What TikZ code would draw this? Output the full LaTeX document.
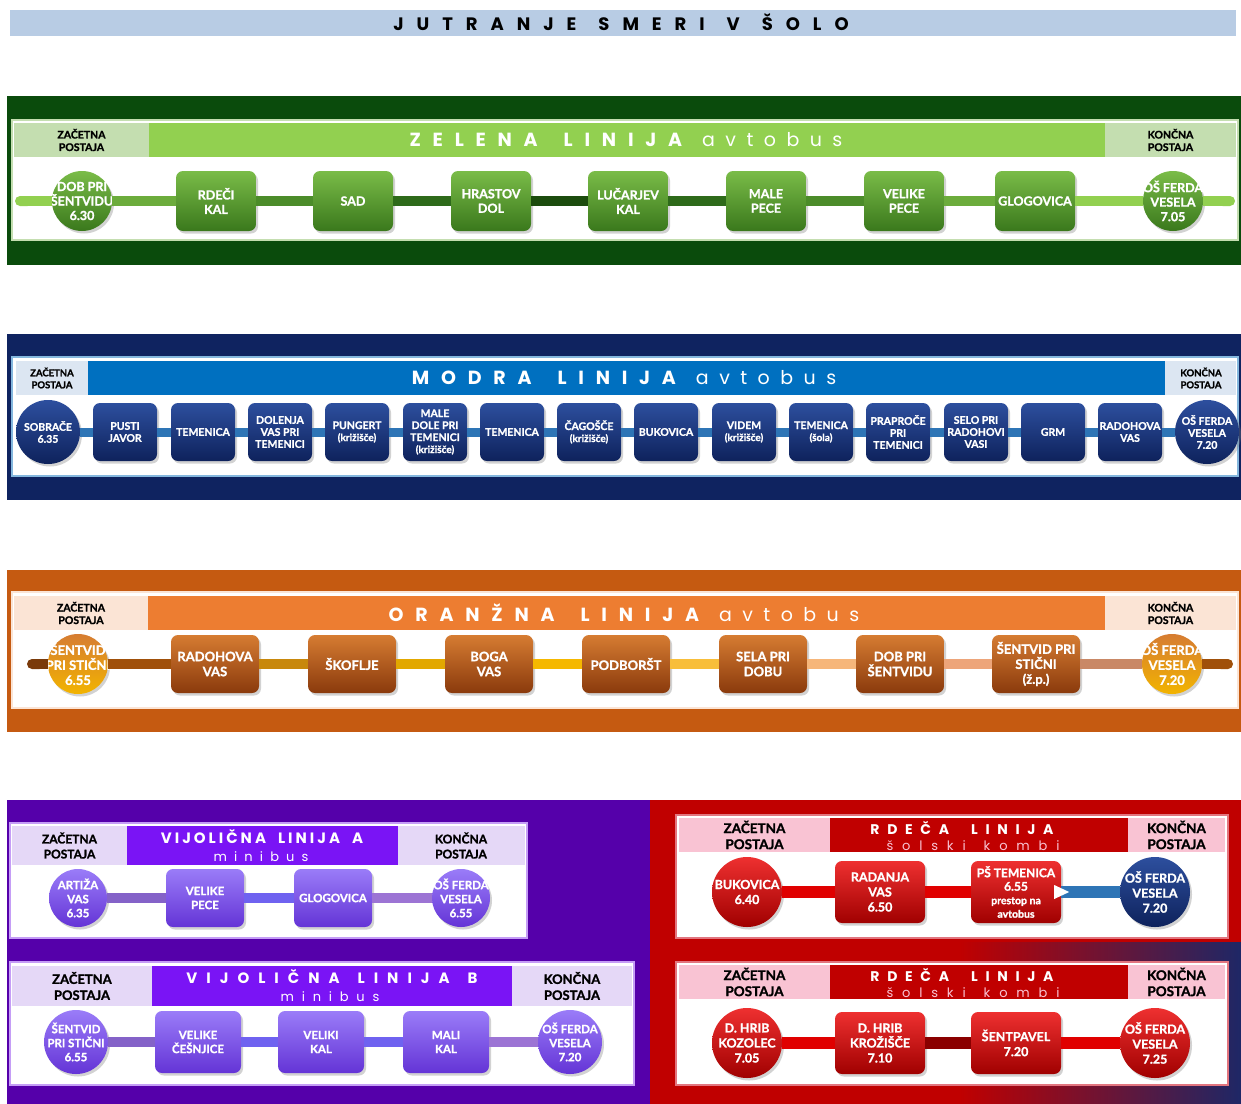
\documentclass[tikz,border=0pt]{standalone}
\usepackage{fontspec}
\setmainfont{Lato}[BoldFeatures={FakeBold=1.2}]
\newfontfamily\geo{Poppins}
\usetikzlibrary{shadows,arrows.meta}

% barve
\definecolor{naslovPas}{HTML}{B8CCE4}
\definecolor{zelOkvir}{HTML}{0A4B0C}
\definecolor{zelPas}{HTML}{92D050}
\definecolor{zelSvetla}{HTML}{C4DEB0}
\definecolor{zelGor}{HTML}{7ABC48}
\definecolor{zelDol}{HTML}{3A781C}
\definecolor{zelA}{HTML}{92D050}
\definecolor{zelB}{HTML}{6CAC3C}
\definecolor{zelC}{HTML}{4C8C2A}
\definecolor{zelD}{HTML}{2E6A1A}
\definecolor{zelE}{HTML}{1C4C0E}
\definecolor{modOkvir}{HTML}{0F2360}
\definecolor{modPas}{HTML}{0070C0}
\definecolor{modSvetla}{HTML}{DCE6F2}
\definecolor{modGor}{HTML}{2D4F9E}
\definecolor{modDol}{HTML}{0E225C}
\definecolor{modTrak}{HTML}{2E75B6}
\definecolor{oraOkvir}{HTML}{C55A11}
\definecolor{oraPas}{HTML}{ED7D31}
\definecolor{oraSvetla}{HTML}{FBE4D5}
\definecolor{oraGor}{HTML}{D67C32}
\definecolor{oraDol}{HTML}{8A3A0C}
\definecolor{oraKrogDol}{HTML}{F2B400}
\definecolor{oraA}{HTML}{7A3A0A}
\definecolor{oraB}{HTML}{A0500A}
\definecolor{oraC}{HTML}{C8880C}
\definecolor{oraD}{HTML}{E2A800}
\definecolor{oraE}{HTML}{F5B800}
\definecolor{oraF}{HTML}{F8BE3A}
\definecolor{oraG}{HTML}{F6B67A}
\definecolor{oraH}{HTML}{EDA57A}
\definecolor{oraI}{HTML}{C98866}
\definecolor{vijOzadje}{HTML}{5500AA}
\definecolor{vijPas}{HTML}{7A14F5}
\definecolor{vijSvetla}{HTML}{E5D8F7}
\definecolor{vijGor}{HTML}{9A7CF8}
\definecolor{vijDol}{HTML}{6434D6}
\definecolor{vijA}{HTML}{8462C8}
\definecolor{vijB}{HTML}{6F62F0}
\definecolor{vijC}{HTML}{9C74D4}
\definecolor{rdeOzadje}{HTML}{C00000}
\definecolor{rdeSvetla}{HTML}{F9C3D3}
\definecolor{rdeGor}{HTML}{EE3030}
\definecolor{rdeDol}{HTML}{A00000}
\definecolor{rdeTrak}{HTML}{E00000}
\definecolor{rdeTemna}{HTML}{8A0000}
\definecolor{temnoModra}{HTML}{1E2766}

\newcommand\razprto[3]{{\fontsize{#1}{#1}\selectfont\addfontfeature{LetterSpace=#2}#3}}
\newcommand\kriz{{\fontsize{10}{12}\selectfont(križišče)}}
\newcommand\linija[1]{{\geo\bfseries\razprto{19}{62}{#1}}\hspace{26pt}{\geo\bfseries\razprto{19}{62}{LINIJA}}\hspace{20pt}{\geo\razprto{19}{55}{avtobus}}}

\tikzset{
  glava/.style 2 args={align=center, inner sep=0pt, text=black, font=\bfseries\fontsize{#1}{#2}\selectfont},
  napis/.style 2 args={align=center, inner sep=0pt, text=white, font=\bfseries\fontsize{#1}{#2}\selectfont},
  senca/.style={drop shadow={opacity=0.35, shadow xshift=2pt, shadow yshift=-2.5pt}},
  skatla/.style n args={4}{rounded corners=7pt, minimum width=#1, minimum height=#2, inner sep=0pt, top color=#3, bottom color=#4, senca},
  krog/.style n args={3}{circle, minimum size=#1, inner sep=0pt, top color=#2, bottom color=#3, senca},
  % zelena
  zskatla/.style={skatla={80pt}{60pt}{zelGor}{zelDol}},
  zkrog/.style={krog={60pt}{zelGor}{zelDol}},
  znapis/.style={napis={12.5}{14.5}},
  % modra
  mskatla/.style={skatla={64pt}{58pt}{modGor}{modDol}},
  mkrog/.style={krog={64pt}{modGor}{modDol}},
  mnapis/.style={napis={10.5}{12}},
  % oranzna
  oskatla/.style={skatla={88pt}{58pt}{oraGor}{oraDol}},
  okrog/.style={krog={60pt}{oraGor}{oraKrogDol}},
  onapis/.style={napis={13}{15}},
  % vijolicna
  askatla/.style={skatla={78pt}{58pt}{vijGor}{vijDol}},
  akrog/.style={krog={58pt}{vijGor}{vijDol}},
  bskatla/.style={skatla={86pt}{62pt}{vijGor}{vijDol}},
  bkrog/.style={krog={64pt}{vijGor}{vijDol}},
  vnapis/.style={napis={11.5}{14}},
  % rdeca
  rskatla/.style={skatla={90pt}{62pt}{rdeGor}{rdeDol}},
  rkrog/.style={krog={70pt}{rdeGor}{rdeDol}},
  rnapis/.style={napis={12.5}{15}},
}

\begin{document}
\begin{tikzpicture}[x=1pt, y=-1pt]
\useasboundingbox (0,0) rectangle (1241,1103);

% naslov
\fill[naslovPas] (10,10) rectangle (1236,36);
\node[inner sep=0pt] (naslov) at (621,22) {\geo\bfseries\razprto{18}{72}{JUTRANJE}\hspace{22pt}\razprto{18}{72}{SMERI}\hspace{22pt}\razprto{18}{72}{V}\hspace{22pt}\razprto{18}{72}{ŠOLO}};

% zelena linija
\fill[zelOkvir] (7,96) rectangle (1241,265);
\filldraw[fill=white, draw=zelSvetla, line width=2pt] (12,120) rectangle (1238,240);
\fill[zelSvetla] (14,123) rectangle (149,157);
\fill[zelPas] (149,123) rectangle (1105,157);
\fill[zelSvetla] (1105,123) rectangle (1236,157);
\node[glava={10.5}{12.5}] (zZac) at (81.5,140) {ZAČETNA\\POSTAJA};
\node[glava={10.5}{12.5}] (zKon) at (1170.5,140) {KONČNA\\POSTAJA};
\node[text=white, inner sep=0pt] (zNaslov) at (626,140) {\linija{ZELENA}};
\coordinate (zL) at (15,201);
\coordinate (zD) at (1235,201);
\node[zkrog, label={[znapis]center:DOB PRI\\ŠENTVIDU\\6.30}] (z0) at (82,201) {};
\foreach \x/\ime [count=\i] in {216/RDEČI\\KAL, 353/SAD, 491/HRASTOV\\DOL, 628/LUČARJEV\\KAL, 766/MALE\\PECE, 904/VELIKE\\PECE, 1035/GLOGOVICA}
  \node[zskatla, label={[znapis]center:\ime}] (z\i) at (\x,201) {};
\node[zkrog, label={[znapis]center:OŠ FERDA\\VESELA\\7.05}] (z8) at (1173,201) {};
\draw[line width=10pt, zelA, -{Round Cap[]}] (z0) -- (zL);
\foreach \a/\b/\c in {z0/z1/zelB, z1/z2/zelC, z2/z3/zelD, z3/z4/zelE, z4/z5/zelD, z5/z6/zelC, z6/z7/zelB, z7/z8/zelA}
  \draw[line width=10pt, \c] (\a) -- (\b);
\draw[line width=10pt, zelA, -{Round Cap[]}] (z8) -- (zD);

% modra linija
\fill[modOkvir] (7,334) rectangle (1241,500);
\filldraw[fill=white, draw=modSvetla!60!modPas, line width=2pt] (12,357) rectangle (1238,476);
\fill[modSvetla] (16,361) rectangle (88,395);
\fill[modPas] (88,361) rectangle (1165,395);
\fill[modSvetla] (1165,361) rectangle (1236,395);
\node[glava={9.5}{12}] (mZac) at (52,378) {ZAČETNA\\POSTAJA};
\node[glava={9.5}{12}] (mKon) at (1201,378) {KONČNA\\POSTAJA};
\node[text=white, inner sep=0pt] (mNaslov) at (624,378) {\linija{MODRA}};
\node[mkrog, label={[mnapis]center:SOBRAČE\\6.35}] (m0) at (48,432) {};
\foreach \x/\ime [count=\i] in {125/PUSTI\\JAVOR, 203/TEMENICA, 280/DOLENJA\\VAS PRI\\TEMENICI, 357/PUNGERT\\\kriz, 435/MALE\\DOLE PRI\\TEMENICI\\\kriz, 512/TEMENICA, 589/ČAGOŠČE\\\kriz, 666/BUKOVICA, 744/VIDEM\\\kriz, 821/TEMENICA\\{\fontsize{10}{12}\selectfont(šola)}, 898/PRAPROČE\\PRI\\TEMENICI, 976/SELO PRI\\RADOHOVI\\VASI, 1053/GRM, 1130/RADOHOVA\\VAS}
  \node[mskatla, label={[mnapis]center:\ime}] (m\i) at (\x,432) {};
\node[mkrog, label={[mnapis]center:OŠ FERDA\\VESELA\\7.20}] (m15) at (1207,432) {};
\foreach \a [evaluate=\a as \b using int(\a+1)] in {0,...,14}
  \draw[line width=9pt, modTrak] (m\a) -- (m\b);

% oranzna linija
\fill[oraOkvir] (7,570) rectangle (1241,732);
\filldraw[fill=white, draw=oraSvetla, line width=2pt] (12,592) rectangle (1238,708);
\fill[oraSvetla] (14,596) rectangle (148,630);
\fill[oraPas] (148,596) rectangle (1105,630);
\fill[oraSvetla] (1105,596) rectangle (1236,630);
\node[glava={10.5}{12.5}] (oZac) at (81,613) {ZAČETNA\\POSTAJA};
\node[glava={10.5}{12.5}] (oKon) at (1170.5,613) {KONČNA\\POSTAJA};
\node[text=white, inner sep=0pt] (oNaslov) at (624,613) {\linija{ORANŽNA}};
\coordinate (oL) at (27,664);
\coordinate (oD) at (1233,664);
\node[okrog, label={[onapis]center:ŠENTVID\\PRI STIČNI\\6.55}] (o0) at (78,664) {};
\foreach \x/\ime [count=\i] in {215/RADOHOVA\\VAS, 352/ŠKOFLJE, 489/BOGA\\VAS, 626/PODBORŠT, 763/SELA PRI\\DOBU, 900/DOB PRI\\ŠENTVIDU, 1036/ŠENTVID PRI\\STIČNI\\(ž.p.)}
  \node[oskatla, label={[onapis]center:\ime}] (o\i) at (\x,664) {};
\node[okrog, label={[onapis]center:OŠ FERDA\\VESELA\\7.20}] (o8) at (1172,664) {};
\draw[line width=10pt, oraA, -{Round Cap[]}] (o0) -- (oL);
\foreach \a/\b/\c in {o0/o1/oraB, o1/o2/oraC, o2/o3/oraD, o3/o4/oraE, o4/o5/oraF, o5/o6/oraG, o6/o7/oraH, o7/o8/oraI}
  \draw[line width=10pt, \c] (\a) -- (\b);
\draw[line width=10pt, oraB, -{Round Cap[]}] (o8) -- (oD);

% vijolicna linija A in B
\fill[vijOzadje] (7,800) rectangle (650,1105);
\filldraw[fill=white, draw=vijSvetla!70!vijPas, line width=2pt] (10,823) rectangle (527,938);
\fill[vijSvetla] (12,826) rectangle (127,865);
\fill[vijPas] (127,826) rectangle (398,865);
\fill[vijSvetla] (398,826) rectangle (525,865);
\node[glava={12}{15}] (aZac) at (69.5,845.5) {ZAČETNA\\POSTAJA};
\node[glava={12}{15}] (aKon) at (461,845.5) {KONČNA\\POSTAJA};
\node[text=white, inner sep=0pt] (aNaslov) at (262,836) {\geo\bfseries\razprto{15}{20}{VIJOLIČNA}\hspace{12pt}\razprto{15}{20}{LINIJA}\hspace{12pt}\razprto{15}{20}{A}};
\node[text=white, inner sep=0pt] (aPod) at (261,857) {\geo\razprto{13}{55}{minibus}};
\node[akrog, label={[vnapis]center:ARTIŽA\\VAS\\6.35}] (a0) at (78,898) {};
\node[askatla, label={[vnapis]center:VELIKE\\PECE}] (a1) at (205,898) {};
\node[askatla, label={[vnapis]center:GLOGOVICA}] (a2) at (333,898) {};
\node[akrog, label={[vnapis]center:OŠ FERDA\\VESELA\\6.55}] (a3) at (461,898) {};
\foreach \a/\b/\c in {a0/a1/vijA, a1/a2/vijB, a2/a3/vijC}
  \draw[line width=10pt, \c] (\a) -- (\b);

\filldraw[fill=white, draw=vijSvetla!70!vijPas, line width=2pt] (10,962) rectangle (634,1085);
\fill[vijSvetla] (12,966) rectangle (152,1006);
\fill[vijPas] (152,966) rectangle (512,1006);
\fill[vijSvetla] (512,966) rectangle (632,1006);
\node[glava={13}{16}] (bZac) at (82,986) {ZAČETNA\\POSTAJA};
\node[glava={13}{16}] (bKon) at (572,986) {KONČNA\\POSTAJA};
\node[text=white, inner sep=0pt] (bNaslov) at (332,976) {\geo\bfseries\razprto{15}{60}{VIJOLIČNA}\hspace{18pt}\razprto{15}{60}{LINIJA}\hspace{18pt}\razprto{15}{60}{B}};
\node[text=white, inner sep=0pt] (bPod) at (330,997) {\geo\razprto{13}{60}{minibus}};
\node[bkrog, label={[vnapis]center:ŠENTVID\\PRI STIČNI\\6.55}] (b0) at (76,1042) {};
\foreach \x/\ime [count=\i] in {198/VELIKE\\ČEŠNJICE, 321/VELIKI\\KAL, 446/MALI\\KAL}
  \node[bskatla, label={[vnapis]center:\ime}] (b\i) at (\x,1042) {};
\node[bkrog, label={[vnapis]center:OŠ FERDA\\VESELA\\7.20}] (b4) at (570,1042) {};
\foreach \a/\b/\c in {b0/b1/vijA, b1/b2/vijB, b2/b3/vijB, b3/b4/vijC}
  \draw[line width=10pt, \c] (\a) -- (\b);

% rdeca linija
\fill[rdeOzadje] (650,800) rectangle (1241,1105);
\shade[left color=rdeOzadje, right color=temnoModra] (960,942) rectangle (1241,1105);
\filldraw[fill=white, draw=rdeSvetla!60!rdeOzadje, line width=2pt] (676,815) rectangle (1228,938);
\fill[rdeSvetla] (679,818) rectangle (830,852);
\fill[rdeOzadje] (830,818) rectangle (1128,852);
\fill[rdeSvetla] (1128,818) rectangle (1225,852);
\node[glava={13.5}{16}] (rZac) at (754.5,835) {ZAČETNA\\POSTAJA};
\node[glava={13.5}{16}] (rKon) at (1176.5,835) {KONČNA\\POSTAJA};
\node[text=white, inner sep=0pt] (rNaslov) at (962,828) {\geo\bfseries\razprto{14}{55}{RDEČA}\hspace{22pt}\razprto{14}{55}{LINIJA}};
\node[text=rdeSvetla, inner sep=0pt] (rPod) at (973,846) {\geo\razprto{13}{68}{šolski}\hspace{18pt}\razprto{13}{68}{kombi}};
\node[rkrog, label={[rnapis]center:BUKOVICA\\6.40}] (r0) at (747,892) {};
\node[rskatla, label={[rnapis]center:RADANJA\\VAS\\6.50}] (r1) at (880,892) {};
\node[rskatla, label={[napis={12}{13.5}]center:PŠ TEMENICA\\6.55\\{\fontsize{10.5}{13.5}\selectfont prestop na}\\{\fontsize{10.5}{13.5}\selectfont avtobus}}] (r2) at (1016,892) {};
\node[krog={70pt}{modGor}{modDol}, label={[rnapis]center:OŠ FERDA\\VESELA\\7.20}] (r3) at (1155,892) {};
\draw[line width=12pt, rdeTrak] (r0) -- (r1);
\draw[line width=12pt, rdeTrak] (r1) -- (r2);
\draw[line width=12pt, modTrak] (r2) -- (r3);
\fill[white] ([xshift=-7pt,yshift=7pt]r2.east) -- ([xshift=8pt]r2.east) -- ([xshift=-7pt,yshift=-7pt]r2.east) -- cycle;

\filldraw[fill=white, draw=rdeSvetla!60!rdeOzadje, line width=2pt] (676,962) rectangle (1228,1085);
\fill[rdeSvetla] (679,965) rectangle (830,999);
\fill[rdeOzadje] (830,965) rectangle (1128,999);
\fill[rdeSvetla] (1128,965) rectangle (1225,999);
\node[glava={13.5}{16}] (sZac) at (754.5,982) {ZAČETNA\\POSTAJA};
\node[glava={13.5}{16}] (sKon) at (1176.5,982) {KONČNA\\POSTAJA};
\node[text=white, inner sep=0pt] (sNaslov) at (962,975) {\geo\bfseries\razprto{14}{55}{RDEČA}\hspace{22pt}\razprto{14}{55}{LINIJA}};
\node[text=rdeSvetla, inner sep=0pt] (sPod) at (973,993) {\geo\razprto{13}{68}{šolski}\hspace{18pt}\razprto{13}{68}{kombi}};
\node[rkrog, label={[rnapis]center:D. HRIB\\KOZOLEC\\7.05}] (s0) at (747,1043) {};
\node[rskatla, label={[rnapis]center:D. HRIB\\KROŽIŠČE\\7.10}] (s1) at (880,1043) {};
\node[rskatla, label={[rnapis]center:ŠENTPAVEL\\7.20}] (s2) at (1016,1043) {};
\node[rkrog, label={[rnapis]center:OŠ FERDA\\VESELA\\7.25}] (s3) at (1155,1043) {};
\foreach \a/\b/\c in {s0/s1/rdeTrak, s1/s2/rdeTemna, s2/s3/rdeTrak}
  \draw[line width=12pt, \c] (\a) -- (\b);
\end{tikzpicture}
\end{document}
